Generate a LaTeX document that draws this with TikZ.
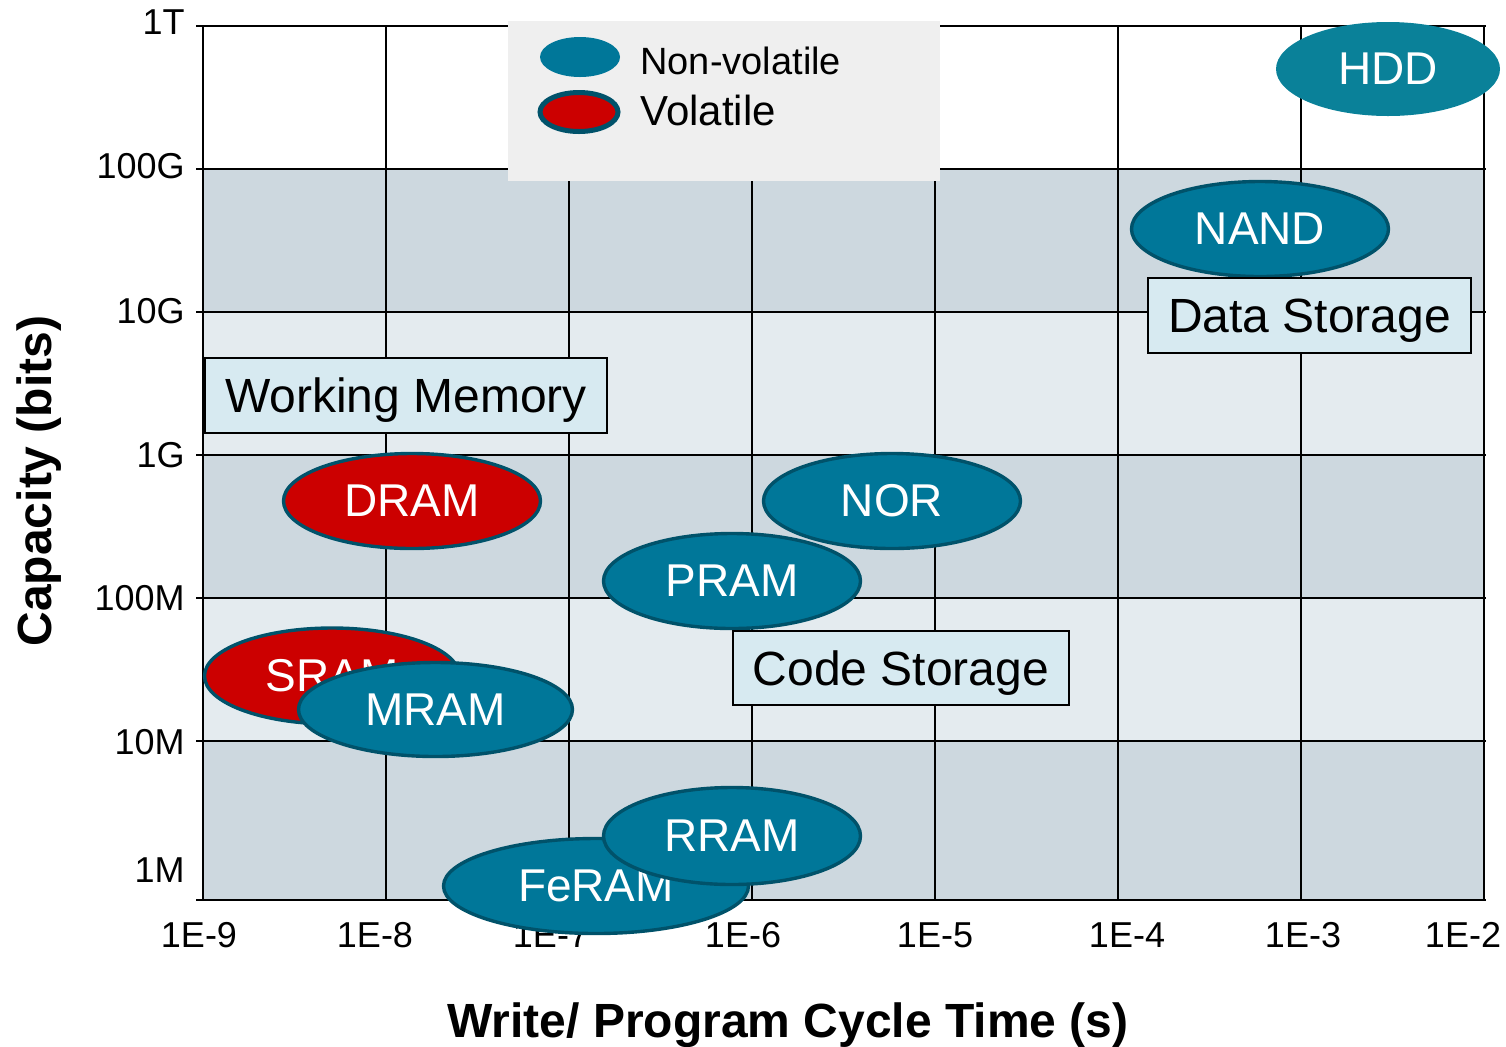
\documentclass[tikz,border=0pt]{standalone}
\usepackage{fontspec}
\setmainfont{Liberation Sans}
\usepackage{xcolor}
\usepackage{tikz}
\usetikzlibrary{shapes.geometric}
\usetikzlibrary{positioning}

\definecolor{nvfill}{RGB}{0,119,153}
\definecolor{nvline}{RGB}{0,82,106}
\definecolor{hddfill}{RGB}{10,129,153}
\definecolor{volred}{RGB}{204,0,0}
\definecolor{banddark}{RGB}{205,216,223}
\definecolor{bandlight}{RGB}{228,235,239}
\definecolor{zonefill}{RGB}{215,234,241}
\definecolor{legendbg}{RGB}{239,239,239}

\begin{document}
\begin{tikzpicture}[x=0.5pt, y=-0.5pt,
        mem/.style={ellipse, draw=nvline, line width=1.7pt, fill=nvfill, text=white, inner sep=0pt,
            minimum width=128.5pt, minimum height=47.5pt, font=\fontsize{23}{23}\selectfont},
        vol/.style={mem, fill=volred},
        zone/.style={rectangle, draw, line width=1pt, fill=zonefill, inner sep=0pt, text depth=0pt,
            font=\fontsize{24}{24}\selectfont},
        ticklab/.style={font=\fontsize{18}{18}\selectfont},
        gridline/.style={line width=1pt},
        axistitle/.style={font=\bfseries\fontsize{24}{24}\selectfont}]
            \useasboundingbox (0,0) rectangle (1506,1046);

            \foreach \ya/\yb/\c in {169/312/banddark, 312/455/bandlight, 455/598/banddark,
                    598/741/bandlight, 741/900/banddark}
                \fill[\c] (203,\ya) rectangle (1484,\yb);
            \foreach \gx in {203,386,...,1484}
                \draw[gridline] (\gx,26) -- (\gx,900);
            \foreach \gy in {26,169,312,455,598,741,900}
                \draw[gridline] (196,\gy) -- (1486,\gy);

            \foreach \lab/\yy in {1T/22, 100G/166, 10G/311, 1G/455, 100M/598, 10M/742, 1M/870}
                \node[ticklab, anchor=east, inner sep=0pt] (yt\lab) at (185,\yy) {\lab};
            \foreach \lab/\xx in {9/199, 8/375, 7/551, 6/743, 5/935, 4/1127, 3/1303, 2/1463}
                \node[ticklab] (xt\lab) at (\xx,935) {1E-\lab};

            \node[fill=legendbg, inner sep=0pt, minimum width=216pt, minimum height=80pt] (legend) at (724,101) {};
            \node[ellipse, fill=nvfill, inner sep=0pt, minimum width=40pt, minimum height=20pt] (nvkey) at (580,57) {};
            \node[ellipse, draw=nvline, line width=2.5pt, fill=volred, inner sep=0pt,
                minimum width=39pt, minimum height=19.5pt] (volkey) at (579,112) {};
            \node[anchor=base west, inner sep=0pt, font=\fontsize{19}{19}\selectfont] (nvtext) at (640,74) {Non-volatile};
            \node[anchor=base west, inner sep=0pt, font=\fontsize{21}{21}\selectfont] (voltext) at (640,125) {Volatile};

            \node[mem, draw=none, fill=hddfill, minimum width=112pt, minimum height=47pt] (hdd) at (1388,69) {HDD};
            \node[mem] (nand) at (1260,229) {NAND};
            \node[zone, minimum width=161.5pt, minimum height=37.5pt] (data) at (1309.5,315.5) {Data Storage};
            \node[zone, minimum width=201pt, minimum height=37.5pt] (work) at (406,395.5) {Working Memory};
            \node[vol] (dram) at (412,501) {DRAM};
            \node[mem] (nor) at (892,501) {NOR};
            \node[mem] (pram) at (732,581) {PRAM};
            \node[zone, minimum width=168pt, minimum height=37pt] (code) at (901,668) {Code Storage};
            \node[vol, minimum width=127.5pt, minimum height=48pt] (sram) at (332,676) {SRAM};
            \node[mem, minimum width=137pt, minimum height=47pt] (mram) at (435.5,709.5) {MRAM};
            \node[mem, minimum width=152.5pt] (feram) at (596,886) {FeRAM};
            \node[mem, minimum height=48.5pt] (rram) at (732,836) {RRAM};

            \node[axistitle, anchor=base] (xtitle) at (788,1037) {Write/ Program Cycle Time (s)};
            \node[axistitle, rotate=90] (ytitle) at (39,481) {Capacity (bits)};
        \end{tikzpicture}
\end{document}
